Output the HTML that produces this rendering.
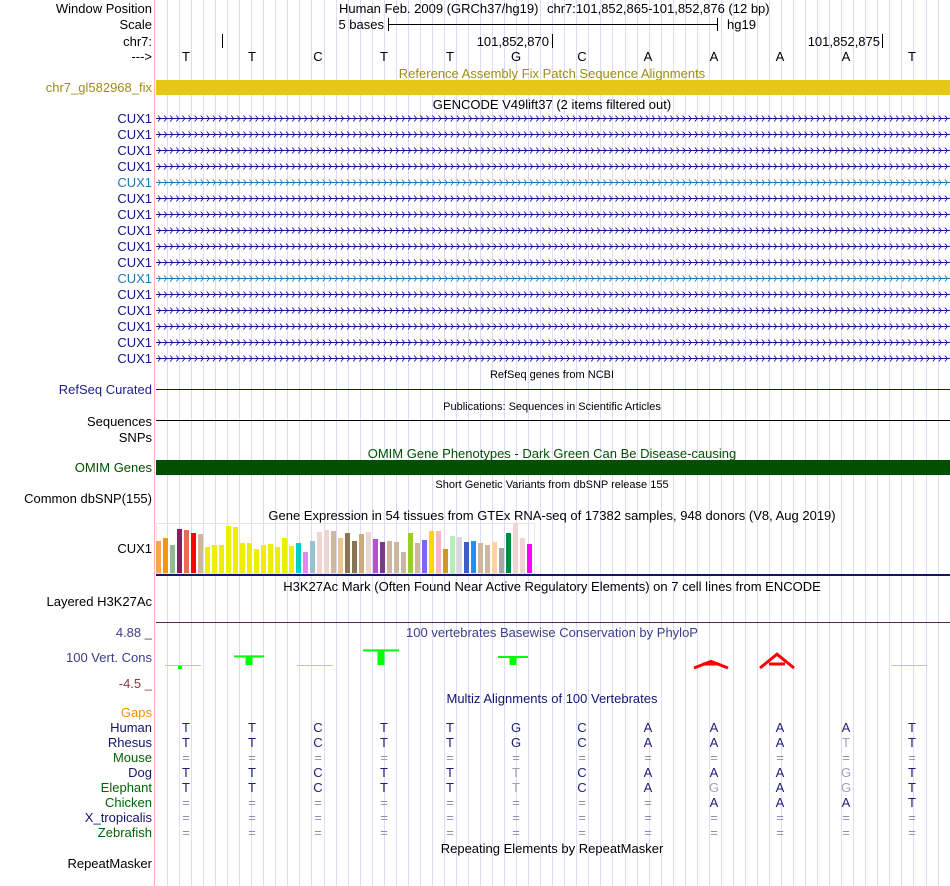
<!DOCTYPE html>
<html><head><meta charset="utf-8">
<style>
html,body{margin:0;padding:0;background:#fff;}
svg{display:block;font-family:"Liberation Sans",sans-serif;}
</style></head>
<body>
<svg id="c" width="950" height="886" viewBox="0 0 950 886" xmlns="http://www.w3.org/2000/svg">
<g id="grid"></g>
<line x1="154.5" y1="0" x2="154.5" y2="886" stroke="#ffb4b4" stroke-width="1"/>
<g font-size="13" text-anchor="end" id="labels">
<text x="152" y="13" fill="#000">Window Position</text>
<text x="152" y="29" fill="#000">Scale</text>
<text x="152" y="46" fill="#000">chr7:</text>
<text x="152" y="61" fill="#000">---&gt;</text>
<text x="152" y="92" fill="#a08c14">chr7_gl582968_fix</text>
<text x="152" y="394" fill="#1e1e8c">RefSeq Curated</text>
<text x="152" y="426" fill="#000">Sequences</text>
<text x="152" y="442" fill="#000">SNPs</text>
<text x="152" y="472" fill="#005000">OMIM Genes</text>
<text x="152" y="503" fill="#000">Common dbSNP(155)</text>
<text x="152" y="553" fill="#000">CUX1</text>
<text x="152" y="606" fill="#000">Layered H3K27Ac</text>
<text x="152" y="637" fill="#3c3c8c">4.88 _</text>
<text x="152" y="662" fill="#3c3c8c">100 Vert. Cons</text>
<text x="152" y="688" fill="#8c3c3c">-4.5 _</text>
<text x="152" y="717" fill="#ff8c00">Gaps</text>
<text x="152" y="868" fill="#000">RepeatMasker</text>
</g>
<g font-size="13" text-anchor="middle">
<text x="339" y="13" fill="#000" text-anchor="start">Human Feb. 2009 (GRCh37/hg19)</text>
<text x="547" y="13" fill="#000" text-anchor="start">chr7:101,852,865-101,852,876 (12 bp)</text>
<text x="552" y="78" fill="#a08c14">Reference Assembly Fix Patch Sequence Alignments</text>
<text x="552" y="109" fill="#000">GENCODE V49lift37 (2 items filtered out)</text>
<text x="552" y="378" fill="#000" font-size="11">RefSeq genes from NCBI</text>
<text x="552" y="410" fill="#000" font-size="11">Publications: Sequences in Scientific Articles</text>
<text x="552" y="458" fill="#005000">OMIM Gene Phenotypes - Dark Green Can Be Disease-causing</text>
<text x="552" y="488" fill="#000" font-size="11">Short Genetic Variants from dbSNP release 155</text>
<text x="552" y="520" fill="#000">Gene Expression in 54 tissues from GTEx RNA-seq of 17382 samples, 948 donors (V8, Aug 2019)</text>
<text x="552" y="591" fill="#000">H3K27Ac Mark (Often Found Near Active Regulatory Elements) on 7 cell lines from ENCODE</text>
<text x="552" y="637" fill="#3c3c8c">100 vertebrates Basewise Conservation by PhyloP</text>
<text x="552" y="703" fill="#14146e">Multiz Alignments of 100 Vertebrates</text>
<text x="552" y="853" fill="#000">Repeating Elements by RepeatMasker</text>
</g>
<g>
<text x="384" y="29" font-size="13" text-anchor="end">5 bases</text>
<line x1="388" y1="24.5" x2="718" y2="24.5" stroke="#000"/>
<line x1="388.5" y1="18" x2="388.5" y2="31" stroke="#000"/>
<line x1="717.5" y1="18" x2="717.5" y2="31" stroke="#000"/>
<text x="727" y="29" font-size="13">hg19</text>
</g>
<g>
<line x1="222.5" y1="34" x2="222.5" y2="48" stroke="#000"/>
<text x="549" y="46" font-size="13" text-anchor="end">101,852,870</text>
<line x1="552.5" y1="34" x2="552.5" y2="48" stroke="#000"/>
<text x="880" y="46" font-size="13" text-anchor="end">101,852,875</text>
<line x1="882.5" y1="34" x2="882.5" y2="48" stroke="#000"/>
</g>
<g id="bases" font-size="13" text-anchor="middle"></g>
<rect x="156" y="80" width="794" height="15" fill="#e6c814"/>
<g id="genes"></g>
<line x1="156" y1="389.5" x2="950" y2="389.5" stroke="#14145a"/>
<line x1="156" y1="420.5" x2="950" y2="420.5" stroke="#000"/>
<rect x="156" y="460" width="794" height="15" fill="#005000"/>
<rect x="156.5" y="523.5" width="378" height="50" fill="none" stroke="#e6e6e6"/>
<g id="gtex"></g>
<rect x="156" y="574" width="794" height="2" fill="#14146e"/>
<line x1="156" y1="622.5" x2="950" y2="622.5" stroke="#502850"/>
<g id="cons"></g>
<g id="multiz" font-size="13"></g>
</svg>
<script>
var bases = ["T","T","C","T","T","G","C","A","A","A","A","T"];
var gtexValues = [32,35,28,44,43,40,39,26,28,28,47,46,30,30,24,28,29,26,35,27,30,21,32,41,43,42,35,40,32,39,41,34,31,32,31,21,40,30,33,42,42,24,37,36,31,32,30,28,31,25,40,50,35,29];
var gtexColors = ["#FFA54F","#EE9A00","#8FBC8F","#8B1C62","#EE6A50","#FF0000","#CDB79E","#EEEE00","#EEEE00","#EEEE00","#EEEE00","#EEEE00","#EEEE00","#EEEE00","#EEEE00","#EEEE00","#EEEE00","#EEEE00","#EEEE00","#EEEE00","#00CDCD","#EE82EE","#9AC0CD","#EED5D2","#EED5D2","#CDB79E","#EEC591","#8B7355","#8B7355","#CDAA7D","#EED5D2","#B452CD","#7A378B","#CDB79E","#CDB79E","#CDB79E","#9ACD32","#CDB79E","#7A67EE","#FFD700","#FFB6C1","#CD9B1D","#B4EEB4","#D9D9D9","#3A5FCD","#1E90FF","#CDB79E","#CDB79E","#FFD39B","#A6A6A6","#008B45","#EED5D2","#EED5D2","#FF00FF"];
var consValues = [0.3,1.6,0.1,2.6,0,1.5,0,0,-0.6,-1.8,0,0.15];
var species = ["Human","Rhesus","Mouse","Dog","Elephant","Chicken","X_tropicalis","Zebrafish"];
var speciesColors = ["#14146e","#14146e","#006400","#14146e","#006400","#006400","#14146e","#006400"];
var alignRows = ["TTCTTGCAAAAT","TTCTTGCAAAtT","============","TTCTTtCAAAgT","TTCTTtCAgAgT","========AAAT","============","============"];
var geneColors = [0,0,0,0,1,0,0,0,0,0,1,0,0,0,0,0];

var NS="http://www.w3.org/2000/svg";
function mk(tag, attrs, parent){var e=document.createElementNS(NS,tag);for(var k in attrs)e.setAttribute(k,attrs[k]);parent.appendChild(e);return e;}
function xBase(i){return 186+66*i;}
var grid=document.getElementById('grid');
for(var x=167;x<950;x+=12.04){
  var l=mk('line',{x1:Math.round(x)+0.5,y1:0,x2:Math.round(x)+0.5,y2:886,stroke:'#dcdcf5'},grid);
  
  
}
var bg=document.getElementById('bases');
bases.forEach(function(b,i){
  var t=mk('text',{x:xBase(i),y:61},bg);t.textContent=b;
  
  
});
var genes=document.getElementById('genes');
var labels=document.getElementById('labels');
geneColors.forEach(function(c,r){
  var y=118+16*r;
  var col=c?'#1e78b4':'#14148c';
  var t=mk('text',{x:152,y:y+5,fill:col},labels);t.textContent='CUX1';
  
  
  var g=mk('g',{stroke:col,fill:'none','stroke-width':0.9},genes);
  
  
  mk('line',{x1:156,y1:y+0.5,x2:950,y2:y+0.5},g);
  var d='';
  for(var ax=160;ax<948;ax+=6.1){d+='M'+(ax-2).toFixed(1)+' '+(y-2.5)+'L'+(ax+0.5).toFixed(1)+' '+(y+0.5)+'L'+(ax-2).toFixed(1)+' '+(y+3.5);}
  mk('path',{d:d},g);
});
var gt=document.getElementById('gtex');
var base=573, maxV=50, maxH=50;
function yG(v){return base - v/maxV*maxH;}
gtexValues.forEach(function(v,i){
  var r=mk('rect',{x:156+7*i,y:yG(v),width:5,height:base-yG(v),fill:gtexColors[i]},gt);
  
  
});
var cg=document.getElementById('cons');
var cBase=665, cScale=6;
function yC(v){return cBase - v*cScale;}
consValues.forEach(function(v,i){
  var cx=xBase(i)-3;
  if(v>0.5){
    var g=mk('g',{fill:'#00ff00'},cg);
    
    
    var w=v>2?36:30;
    mk('rect',{x:cx-w/2,y:yC(v),width:w,height:2},g);
    mk('rect',{x:cx-3.5,y:yC(v),width:7,height:cBase-yC(v)},g);
  } else if(v>0){
    var r=mk('rect',{x:cx-18,y:cBase,width:36,height:1,fill:'#b4d48c'},cg);
    
    
    if(i===0){mk('rect',{x:cx-5,y:cBase+1,width:4,height:3,fill:'#00ff00'},cg);}
  } else if(v<0){
    var p=mk('path',{d:'M'+(cx-17)+' '+(cBase+3)+'L'+(cx)+' '+yC(-v)+'L'+(cx+17)+' '+(cBase+3)+'M'+(cx-8)+' '+(cBase-1)+'L'+(cx+8)+' '+(cBase-1),stroke:'#ff0000','stroke-width':3,fill:'none'},cg);
    
    
  }
});
var mz=document.getElementById('multiz');
species.forEach(function(s,r){
  var y=732+15*r;
  var t=mk('text',{x:152,y:y,fill:speciesColors[r],'text-anchor':'end'},mz);t.textContent=s;
  
  
  alignRows[r].split('').forEach(function(ch,i){
    var faded=(ch===ch.toLowerCase()&&ch!=='=');
    var fill=ch==='='?'#8c8cb4':(faded?'#a0a0c0':'#1e1e78');
    var tt=mk('text',{x:xBase(i),y:y,fill:fill,'text-anchor':'middle'},mz);
    tt.textContent=ch.toUpperCase();
    
    
  });
});
</script>
</body></html>
